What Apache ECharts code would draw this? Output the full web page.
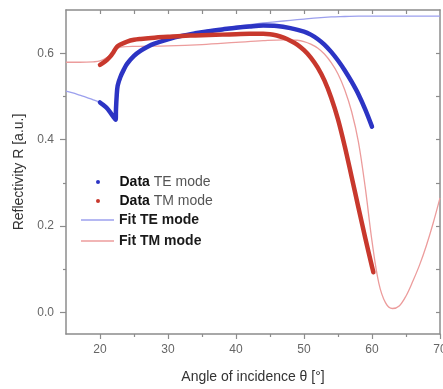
<!DOCTYPE html>
<html>
<head>
<meta charset="utf-8">
<script src="https://cdn.jsdelivr.net/npm/echarts@6/dist/echarts.min.js"></script>
<style>html,body{margin:0;padding:0;background:#fff;}#c{width:443px;height:389px;}</style>
</head>
<body>
<div id="c"></div>
<script>
// Data TE mode
const teAngle = [20.0,20.5,21.0,21.5,22.0,22.3,22.35,22.45,22.6,23.0,23.5,24,25,26,27,28,30,32,34,36,38,40,42,44,46,48,50,51,52,53,54,55,56,57,58,59,60];
const teR     = [0.486,0.480,0.473,0.463,0.452,0.446,0.47,0.50,0.525,0.545,0.562,0.576,0.594,0.606,0.615,0.622,0.632,0.640,0.646,0.651,0.655,0.659,0.662,0.664,0.663,0.658,0.650,0.643,0.633,0.620,0.603,0.583,0.560,0.534,0.505,0.470,0.43];
// Data TM mode
const tmAngle = [20,20.5,21,21.5,22,22.5,23,24,25,26,28,30,32,34,36,38,40,42,44,45,46,47,48,49,50,51,52,53,54,55,56,57,58,59,60,60.2];
const tmR     = [0.573,0.578,0.584,0.592,0.603,0.615,0.620,0.627,0.631,0.633,0.636,0.638,0.640,0.641,0.642,0.643,0.644,0.645,0.645,0.644,0.641,0.636,0.629,0.620,0.607,0.590,0.567,0.537,0.497,0.447,0.384,0.314,0.243,0.173,0.106,0.093];
// Fit TE mode
const fitTeAngle = [15,16,17,18,19,20,21,22,22.3,22.4,23,24,25,26,28,30,32,34,36,38,40,42,44,46,48,50,52,54,56,58,60,65,70];
const fitTeR     = [0.512,0.508,0.503,0.498,0.492,0.486,0.474,0.455,0.447,0.505,0.548,0.578,0.596,0.608,0.624,0.634,0.642,0.648,0.654,0.658,0.662,0.666,0.670,0.673,0.676,0.679,0.682,0.684,0.685,0.686,0.686,0.686,0.686];
// Fit TM mode
const fitTmAngle = [15,17,19,20,21,22,22.5,23,25,30,35,40,44,47,49,50,51,52,53,54,55,56,57,58,59,60,61,62,63,64,65,66,67,68,69,70];
const fitTmR     = [0.579,0.579,0.580,0.582,0.590,0.603,0.610,0.614,0.616,0.617,0.620,0.625,0.629,0.631,0.630,0.627,0.621,0.612,0.598,0.578,0.552,0.515,0.465,0.395,0.29,0.165,0.068,0.022,0.009,0.015,0.038,0.072,0.11,0.155,0.207,0.265];

// Tick values
const xMajorTicks = [20,30,40,50,60,70];
const xMinorTicks = [25,35,45,55,65];
const xAllTicks = [20,25,30,35,40,45,50,55,60,65];
const yMajorTicks = [0.0,0.2,0.4,0.6];
const yMinorTicks = [0.1,0.3,0.5];
const yAllTicks = [0.0,0.1,0.2,0.3,0.4,0.5,0.6];

const pairs = (a, b) => a.map((v, i) => [v, b[i]]);

const axisColor = '#8c8c8c';
const FONT = 'Liberation Sans, Arial, sans-serif';

function xAx(opts) {
  return Object.assign({
    type: 'value', min: 15, max: 70, position: 'bottom',
    splitLine: {show: false},
    axisLine: {show: false, onZero: false, lineStyle: {color: axisColor, width: 1.5}},
    axisTick: {show: false},
    axisLabel: {show: false}
  }, opts);
}
function yAx(opts) {
  return Object.assign({
    type: 'value', min: -0.05, max: 0.7, position: 'left',
    splitLine: {show: false},
    axisLine: {show: false, onZero: false, lineStyle: {color: axisColor, width: 1.5}},
    axisTick: {show: false},
    axisLabel: {show: false}
  }, opts);
}

const option = {
  animation: false,
  backgroundColor: '#fff',
  grid: {left: 66, right: 3, top: 10, bottom: 55, containLabel: false, outerBoundsMode: 'none'},
  xAxis: [
    xAx({
      name: 'Angle of incidence θ [°]', nameLocation: 'middle', nameGap: 36,
      nameTextStyle: {fontSize: 14, color: '#333', fontFamily: FONT},
      axisLine: {show: true, onZero: false, lineStyle: {color: axisColor, width: 1.5}},
      axisTick: {show: true, length: 5, customValues: xMajorTicks, lineStyle: {color: axisColor, width: 1.2}},
      axisLabel: {show: true, customValues: xMajorTicks, fontSize: 12, color: '#666', margin: 10, fontFamily: FONT}
    }),
    xAx({axisTick: {show: true, length: 3, customValues: xMinorTicks, lineStyle: {color: axisColor, width: 1.2}}}),
    xAx({position: 'top',
      axisLine: {show: true, onZero: false, lineStyle: {color: axisColor, width: 1.5}},
      axisTick: {show: true, inside: true, length: 4, customValues: xAllTicks, lineStyle: {color: axisColor, width: 1.2}}})
  ],
  yAxis: [
    yAx({
      name: 'Reflectivity R [a.u.]', nameLocation: 'middle', nameGap: 38,
      nameTextStyle: {fontSize: 14, color: '#333', fontFamily: FONT},
      axisLine: {show: true, onZero: false, lineStyle: {color: axisColor, width: 1.5}},
      axisTick: {show: true, length: 6, customValues: yMajorTicks, lineStyle: {color: axisColor, width: 1.2}},
      axisLabel: {show: true, customValues: yMajorTicks, fontSize: 12, color: '#666', margin: 12, fontFamily: FONT,
        formatter: v => v.toFixed(1)}
    }),
    yAx({axisTick: {show: true, length: 3, customValues: yMinorTicks, lineStyle: {color: axisColor, width: 1.2}}}),
    yAx({position: 'right',
      axisLine: {show: true, onZero: false, lineStyle: {color: axisColor, width: 1.5}},
      axisTick: {show: true, inside: true, length: 4, customValues: yAllTicks, lineStyle: {color: axisColor, width: 1.2}}})
  ],
  legend: [
    {
      orient: 'vertical', left: 91, top: 169, itemWidth: 33, itemHeight: 4, itemGap: 3, icon: 'circle',
      data: ['Data TE mode', 'Data TM mode'],
      formatter: n => '{b|Data} {n|' + n.replace('Data ', '') + '}',
      textStyle: {fontFamily: FONT, fontSize: 14, lineHeight: 16,
        rich: {b: {fontWeight: 'bold', color: '#111', fontSize: 14, fontFamily: FONT, lineHeight: 16},
               n: {color: '#555', fontSize: 14, fontFamily: FONT, lineHeight: 16}}}
    },
    {
      orient: 'vertical', left: 76, top: 207, itemWidth: 33, itemHeight: 12, itemGap: 5, icon: 'path://M0,0H33V1.3H0Z',
      data: ['Fit TE mode', 'Fit TM mode'],
      textStyle: {fontFamily: FONT, fontSize: 14, fontWeight: 'bold', color: '#1a1a1a', lineHeight: 16}
    }
  ],
  series: [
    {name: 'Fit TE mode', type: 'line', data: pairs(fitTeAngle, fitTeR), showSymbol: false, symbol: 'none',
      smooth: 0.35, color: '#9ca0ee', lineStyle: {width: 1.3, color: '#9ca0ee'}, z: 2},
    {name: 'Fit TM mode', type: 'line', data: pairs(fitTmAngle, fitTmR), showSymbol: false, symbol: 'none',
      smooth: 0.35, color: '#ec9c9c', lineStyle: {width: 1.3, color: '#ec9c9c'}, z: 2},
    {name: 'Data TE mode', type: 'line', data: pairs(teAngle, teR), showSymbol: false, symbol: 'none',
      smooth: 0.35, color: '#2c34c4', lineStyle: {width: 4.5, color: '#2c34c4', cap: 'round', join: 'round'}, z: 3},
    {name: 'Data TM mode', type: 'line', data: pairs(tmAngle, tmR), showSymbol: false, symbol: 'none',
      smooth: 0.35, color: '#c8382d', lineStyle: {width: 4.5, color: '#c8382d', cap: 'round', join: 'round'}, z: 3}
  ]
};
const chart = echarts.init(document.getElementById('c'), null, {renderer: 'canvas'});
chart.setOption(option);
</script>
</body>
</html>
